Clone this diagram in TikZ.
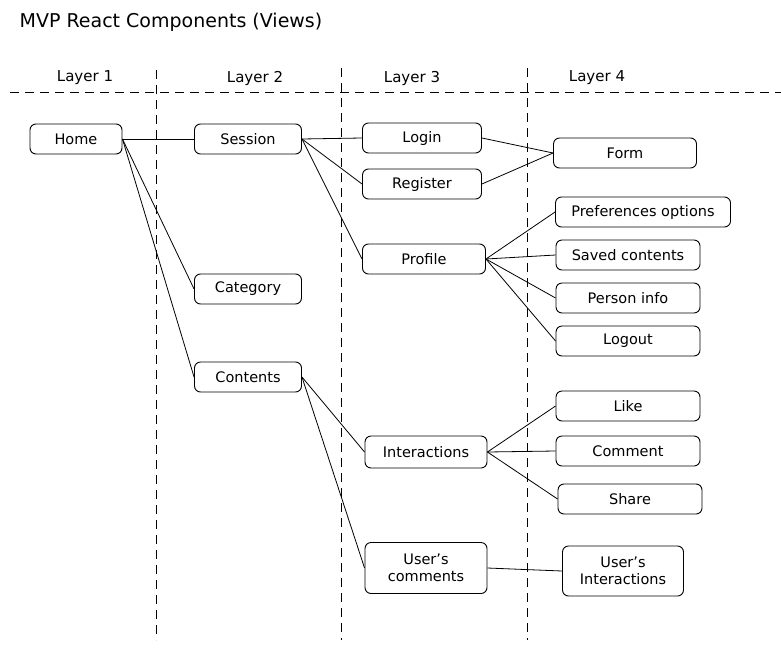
\documentclass[tikz,border=0pt]{standalone}
\usepackage{fontspec}
\setmainfont{DejaVu Sans}

\begin{document}
\begin{tikzpicture}[
  x=1pt, y=-1pt,
  box/.style={rectangle, draw, rounded corners=6pt, align=center, line width=0.9pt, minimum height=30pt, inner sep=0pt, font=\fontsize{14.5}{17}\selectfont},
  layer/.style={font=\fontsize{15}{18}\selectfont},
  link/.style={line width=0.8pt},
  divider/.style={line width=0.9pt, dash pattern=on 9pt off 6pt}
]
\useasboundingbox (0,0) rectangle (781,656);

\node[font=\fontsize{19}{22}\selectfont] (title) at (171,22) {MVP React Components (Views)};

\node[layer] (layer1) at (85,78) {Layer 1};
\node[layer] (layer2) at (255,78) {Layer 2};
\node[layer] (layer3) at (412,78) {Layer 3};
\node[layer] (layer4) at (597,78) {Layer 4};

\draw[divider] (10,92) -- (781,92);
\draw[divider] (156,70) -- (156,640);
\draw[divider] (341,68) -- (341,640);
\draw[divider] (527,68) -- (527,640);

\node[box, minimum width=92pt] (home) at (76,139) {Home};
\node[box, minimum width=107pt] (session) at (248,139) {Session};
\node[box, minimum width=107pt] (category) at (248,289) {Category};
\node[box, minimum width=107pt] (contents) at (248,377) {Contents};
\node[box, minimum width=119pt] (login) at (422,138) {Login};
\node[box, minimum width=119pt] (register) at (422,184) {Register};
\node[box, minimum width=123pt] (profile) at (424,259) {Profile};
\node[box, minimum width=122pt, minimum height=32pt] (interactions) at (426,452) {Interactions};
\node[box, minimum width=122pt, minimum height=51pt] (usercomments) at (426,568) {User's\\comments};
\node[box, minimum width=143pt] (form) at (625,153) {Form};
\node[box, minimum width=175pt] (prefs) at (643,212) {Preferences options};
\node[box, minimum width=144pt] (saved) at (628,255) {Saved contents};
\node[box, minimum width=144pt] (person) at (628,298) {Person info};
\node[box, minimum width=144pt] (logout) at (628,341) {Logout};
\node[box, minimum width=144pt] (like) at (628,406) {Like};
\node[box, minimum width=144pt] (comment) at (628,451) {Comment};
\node[box, minimum width=144pt] (share) at (630,499) {Share};
\node[box, minimum width=121pt, minimum height=50pt] (userinter) at (623,571) {User's\\Interactions};

\draw[link] (home.east) -- (session.west);
\draw[link] (home.east) -- (category.west);
\draw[link] (home.east) -- (contents.west);
\draw[link] (session.east) -- (login.west);
\draw[link] (session.east) -- (register.west);
\draw[link] (session.east) -- (profile.west);
\draw[link] (login.east) -- (form.west);
\draw[link] (register.east) -- (form.west);
\draw[link] (profile.east) -- (prefs.west);
\draw[link] (profile.east) -- (saved.west);
\draw[link] (profile.east) -- (person.west);
\draw[link] (profile.east) -- (logout.west);
\draw[link] (contents.east) -- (interactions.west);
\draw[link] (contents.east) -- (usercomments.west);
\draw[link] (interactions.east) -- (like.west);
\draw[link] (interactions.east) -- (comment.west);
\draw[link] (interactions.east) -- (share.west);
\draw[link] (usercomments.east) -- (userinter.west);
\end{tikzpicture}
\end{document}
